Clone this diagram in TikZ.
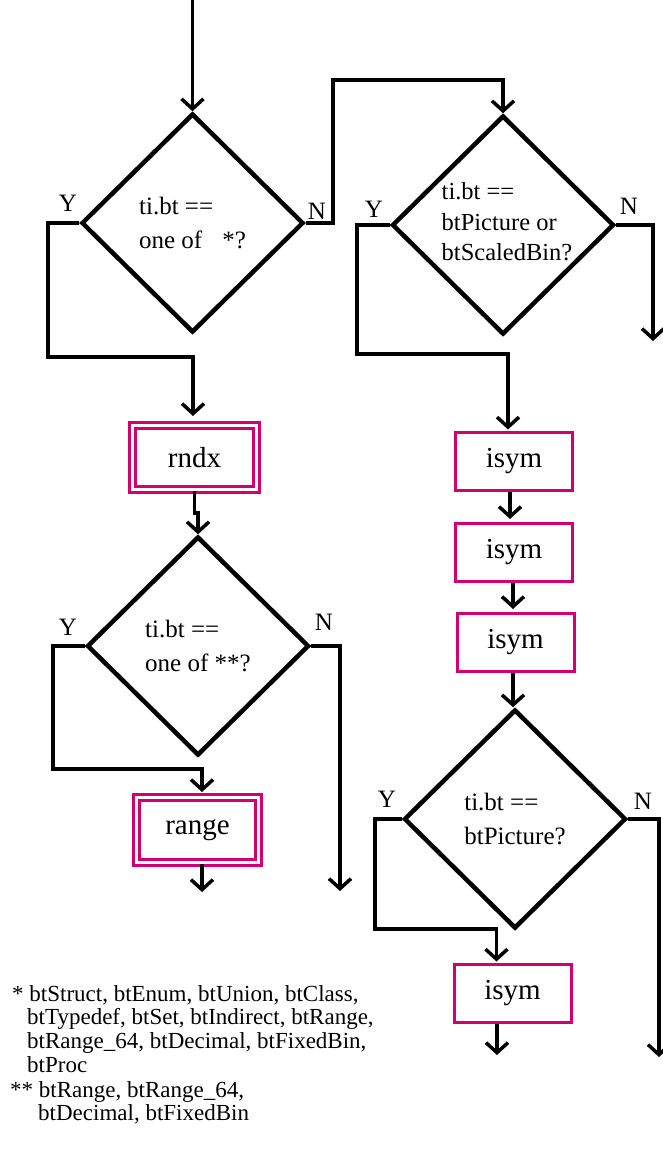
\documentclass[tikz,border=0pt]{standalone}
\usepackage{fontspec}
\setmainfont{Liberation Serif}
\usetikzlibrary{shapes.geometric,arrows.meta}
\definecolor{boxpink}{RGB}{212,0,114}
\begin{document}
\begin{tikzpicture}[x=1pt,y=-1pt,
  dec/.style={diamond, draw=black, line width=4.5pt, inner sep=0pt,
    minimum width=222pt, minimum height=219pt,
    font=\fontsize{25}{31}\selectfont, align=left},
  dtext/.style={font=\fontsize{24.5}{30.5}\selectfont, align=left, inner sep=0pt},
  dbox/.style={draw=boxpink, double, double distance=3pt, line width=3pt,
    inner sep=0pt, minimum width=124pt, minimum height=64pt,
    font=\fontsize{29}{30}\selectfont},
  sbox/.style={draw=boxpink, line width=3pt, inner sep=0pt,
    minimum width=117pt, minimum height=58pt,
    font=\fontsize{29}{30}\selectfont},
  conn/.style={draw=black, line width=3.5pt,
    -{Straight Barb[length=10pt,width=22pt]}},
  lab/.style={font=\fontsize{25}{25}\selectfont, inner sep=0pt},
  fn/.style={font=\fontsize{23}{24}\selectfont, anchor=base west, inner sep=0pt}
]
\useasboundingbox (0,0) rectangle (662,1150);

% decisions
\node[dec] (d1) at (192.5,223) {ti.bt ==\\[3pt] one of\hspace*{20pt}*?};
\node[dec, label={[dtext, xshift=4pt, yshift=3pt]center:{ti.bt ==\\ btPicture or\\ btScaledBin?}}] (d2) at (503,225) {};
\node[dec] (d3) at (198,646) {ti.bt ==\\[3pt] one of **?};
\node[dec] (d4) at (515,819) {ti.bt ==\\[3pt] btPicture?};

% boxes
\node[dbox] (rndx) at (194.5,457.5) {rndx};
\node[dbox, minimum width=122pt, minimum height=65pt] (range) at (197.5,830) {range};
\node[sbox] (isym1) at (514,461) {isym};
\node[sbox] (isym2) at (514,552.5) {isym};
\node[sbox] (isym3) at (515.5,642.5) {isym};
\node[sbox] (isym4) at (512.5,993) {isym};

% labels
\node[lab] (y1) at (68,203) {Y};
\node[lab] (n1) at (317,211) {N};
\node[lab] (y2) at (374,209) {Y};
\node[lab] (n2) at (629,206) {N};
\node[lab] (y3) at (68,627) {Y};
\node[lab] (n3) at (324,622) {N};
\node[lab] (y4) at (387,799) {Y};
\node[lab] (n4) at (643,801) {N};

% free ends
\coordinate (start) at (192.5,0);
\coordinate (n2end) at (653,341);
\coordinate (n3end) at (340,891);
\coordinate (n4end) at (659,1057);
\coordinate (rgend) at (202,892);
\coordinate (is4end) at (497,1055);

% connectors
\draw[conn] (start) -- (d1.north);
\draw[conn, shorten >=8pt] (d1.west) -| (48,357) -| ([xshift=-1.5pt]rndx.north);
\draw[conn] (d1.east) -| (333,80) -| (d2.north);
\draw[conn, shorten >=1pt] (d2.west) -| (357,354) -| ([xshift=-6pt]isym1.north);
\draw[conn] (d2.east) -| (n2end);
\draw[conn] (rndx.south) -- ++(0,22) -| (d3.north);
\draw[conn, shorten >=4pt] (d3.west) -| (53,769) -| ([xshift=4.5pt]range.north);
\draw[conn] (d3.east) -| (n3end);
\draw[conn] ([xshift=4.5pt]range.south) -- (rgend);
\draw[conn, shorten >=3pt] ([xshift=-4pt]isym1.south) -- ([xshift=-4pt]isym1.south |- isym2.north);
\draw[conn, shorten >=3pt] ([xshift=-1pt]isym2.south) -- ([xshift=-1pt]isym2.south |- isym3.north);
\draw[conn] ([xshift=-2.5pt]isym3.south) -- ([xshift=-2.5pt]isym3.south |- d4.north);
\draw[conn, shorten >=1pt] (d4.west) -| (375,929) -| ([xshift=-16pt]isym4.north);
\draw[conn] (d4.east) -| (n4end);
\draw[conn] ([xshift=-15.5pt]isym4.south) -- (is4end);

% footnotes
\node[fn] (f1) at (12,1001) {* btStruct, btEnum, btUnion, btClass,};
\node[fn] (f2) at (27,1024) {btTypedef, btSet, btIndirect, btRange,};
\node[fn] (f3) at (27,1048) {btRange\_64, btDecimal, btFixedBin,};
\node[fn] (f4) at (27,1072) {btProc};
\node[fn] (f5) at (10,1097) {** btRange, btRange\_64,};
\node[fn] (f6) at (38,1120) {btDecimal, btFixedBin};
\end{tikzpicture}
\end{document}
